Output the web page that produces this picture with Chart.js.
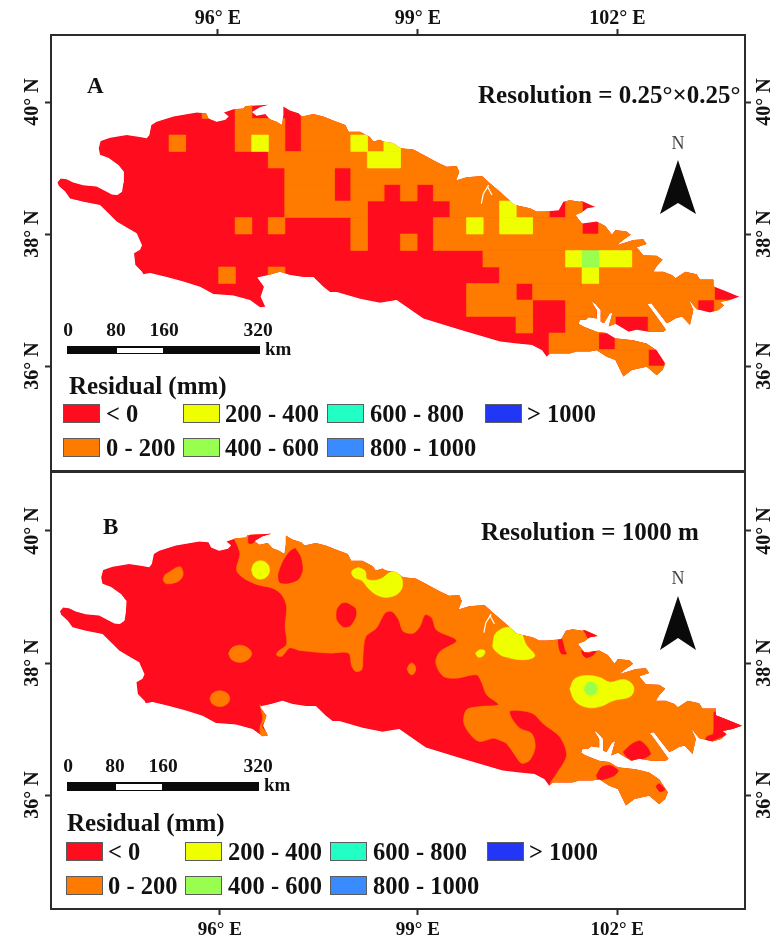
<!DOCTYPE html>
<html>
<head>
<meta charset="utf-8">
<title>Residual maps</title>
<script src="https://cdn.jsdelivr.net/npm/chart.js"></script>
<style>
  html, body { margin: 0; padding: 0; background: #fff; }
  #page { position: relative; width: 776px; height: 937px; overflow: hidden; font-family: "Liberation Serif", serif; font-weight: bold; color: #111; filter: blur(0.4px); }
  canvas { position: absolute; left: 0; }
  .txt { position: absolute; white-space: nowrap; line-height: 1; transform: translateY(-50%); }
  .mid { transform: translate(-50%, -50%); }
  .box { position: absolute; box-sizing: border-box; }
</style>
</head>
<body>
<div id="page">
  <canvas id="mapA" width="776" height="483" style="top:0"></canvas>
  <canvas id="mapB" width="776" height="487" style="top:450px"></canvas>
</div>
<script>
// basin outline, lon / lat
const landOutline = [
  [93.59,38.78],[93.64,38.84],[93.73,38.83],[93.83,38.78],[93.98,38.74],[94.18,38.72],[94.41,38.60],[94.49,38.59],
  [94.56,38.64],[94.58,38.77],[94.59,38.94],[94.51,39.04],[94.36,39.15],[94.23,39.20],[94.21,39.30],[94.24,39.41],
  [94.38,39.46],[94.63,39.50],[94.83,39.47],[94.93,39.45],[94.97,39.50],[95.00,39.65],[95.08,39.70],[95.33,39.78],
  [95.68,39.84],[95.82,39.83],[95.86,39.75],[95.98,39.70],[96.11,39.73],[96.16,39.78],[96.09,39.84],[96.23,39.89],
  [96.38,39.90],[96.41,39.94],[96.63,39.95],[96.76,39.96],[96.63,39.92],[96.51,39.85],[96.58,39.79],[96.71,39.82],
  [96.78,39.74],[96.88,39.70],[96.96,39.65],[96.98,39.80],[96.98,39.93],[97.08,39.87],[97.21,39.83],[97.26,39.78],
  [97.43,39.82],[97.58,39.78],[97.73,39.72],[97.91,39.65],[97.96,39.55],[98.13,39.55],[98.28,39.47],[98.33,39.40],
  [98.43,39.43],[98.48,39.40],[98.63,39.38],[98.74,39.30],[98.93,39.28],[99.08,39.20],[99.28,39.09],[99.43,39.02],
  [99.58,39.03],[99.62,38.94],[99.57,38.81],[99.73,38.86],[99.96,38.88],[100.08,38.77],[100.23,38.64],[100.43,38.46],
  [100.46,38.44],[100.68,38.39],[100.78,38.34],[100.91,38.34],[100.98,38.35],[101.11,38.36],[101.18,38.49],[101.28,38.51],
  [101.43,38.49],[101.46,38.50],[101.66,38.41],[101.54,38.39],[101.46,38.33],[101.36,38.29],[101.46,38.16],[101.68,38.19],
  [101.81,38.12],[101.91,37.99],[101.96,38.06],[102.13,38.04],[102.19,37.99],[102.08,37.91],[101.98,37.83],[102.23,37.91],
  [102.38,37.92],[102.43,37.85],[102.28,37.80],[102.38,37.68],[102.58,37.67],[102.67,37.61],[102.58,37.51],[102.53,37.43],
  [102.68,37.43],[102.81,37.38],[102.86,37.33],[103.01,37.43],[103.18,37.39],[103.23,37.31],[103.43,37.31],[103.43,37.21],
  [103.63,37.13],[103.82,37.05],[103.68,37.00],[103.53,36.97],[103.59,36.92],[103.51,36.85],[103.38,36.81],[103.18,36.86],
  [103.13,36.92],[103.06,37.01],[103.13,36.85],[103.08,36.62],[102.96,36.75],[102.86,36.72],[102.78,36.67],[102.73,36.65],
  [102.60,36.82],[102.50,36.95],[102.44,36.94],[102.53,36.82],[102.67,36.62],[102.72,36.55],[102.68,36.52],[102.46,36.52],
  [102.28,36.55],[102.16,36.52],[101.96,36.64],[101.86,36.60],[101.92,36.82],[101.87,36.79],[101.79,36.65],[101.74,36.67],
  [101.74,36.85],[101.66,36.94],[101.60,36.98],[101.68,36.85],[101.68,36.72],[101.56,36.74],[101.52,36.70],[101.43,36.70],
  [101.41,36.64],[101.48,36.60],[101.68,36.52],[101.83,36.50],[101.96,36.42],[102.23,36.39],[102.43,36.34],[102.58,36.24],
  [102.71,36.04],[102.67,35.94],[102.58,35.86],[102.43,35.99],[102.21,35.94],[102.08,35.84],[101.96,36.09],[101.83,36.14],
  [101.68,36.24],[101.58,36.22],[101.38,36.22],[101.28,36.19],[100.98,36.19],[100.93,36.14],[100.86,36.24],[100.71,36.32],
  [100.48,36.34],[100.23,36.37],[99.63,36.55],[99.08,36.72],[98.68,37.00],[98.43,36.96],[98.13,37.02],[97.78,37.12],
  [97.68,37.12],[97.58,37.20],[97.43,37.35],[97.28,37.35],[97.08,37.38],[96.93,37.43],[96.76,37.38],[96.59,37.34],
  [96.69,37.20],[96.64,37.05],[96.71,36.90],[96.63,36.89],[96.48,37.00],[96.23,37.07],[95.93,37.09],[95.73,37.20],
  [95.48,37.28],[95.23,37.35],[94.98,37.41],[94.88,37.39],[94.86,37.43],[94.76,37.53],[94.74,37.71],[94.83,37.76],
  [94.86,37.83],[94.78,38.01],[94.63,38.10],[94.48,38.19],[94.36,38.31],[94.23,38.44],[93.98,38.49],[93.78,38.54],
  [93.71,38.64],[93.61,38.73]
];
const riverTrace = [[100.06,38.74],[99.98,38.61],[99.95,38.46]];
const riverBranch = [[100.04,38.72],[100.11,38.59]];

// panel A: 0.25 degree residual classes, one string per row, . is below zero
const cellLonStart = 95.018;
const cellLonStep = 0.2478;
const cellLatStep = 0.25;
const cellRowTops = [40,39.75,39.5,39.25,39,38.75,38.5,38.25,38,37.75,37.5,37.25,37,36.75,36.5,36.25,36];
const cellRows = [
  "...o.o...ooooooooooooooooooooooooooo",
  ".....ooo.ooooooooooooooooooooooooooo",
  ".o...oyo.oooyoyooooooooooooooooooooo",
  ".......ooooooyyooooooooooooooooooooo",
  "........ooo.oooooooooooooooooooooooo",
  "........ooo.oo.o.ooooooooooooooooooo",
  "........ooooo.....oooyoo.o.ooooooooo",
  ".....o.o....o....ooyoyyooo.ooooooooo",
  "............o..o.ooooooooooooooooooo",
  "....................oooooygyyooooooo",
  "....o..o.............oooooyooooooooo",
  "...................ooo.ooooooooooo..",
  "...................oooo..oooooooo.oo",
  "......................o..ooo..oooooo",
  "........................ooo.oooooooo",
  "........................oooooo.ooooo",
  "........................oooooooooooo"
];

// panel B: contour patches, lon / lat
const orangeMain = [
  [96.19,39.92],[96.29,39.66],[96.24,39.41],[96.34,39.29],[96.54,39.19],[96.79,39.13],[96.92,39.03],[96.99,38.86],
  [96.97,38.55],[96.99,38.28],[96.87,38.18],[96.84,38.12],[96.92,38.10],[97.04,38.23],[97.19,38.19],[97.64,38.15],
  [97.92,38.15],[97.97,37.95],[98.03,37.87],[98.12,37.90],[98.14,38.15],[98.18,38.40],[98.34,38.53],[98.47,38.76],
  [98.57,38.78],[98.67,38.66],[98.74,38.48],[98.89,38.45],[98.99,38.55],[99.07,38.73],[99.17,38.68],[99.24,38.50],
  [99.54,38.34],[99.29,38.17],[99.23,38.00],[99.34,37.80],[99.54,37.77],[99.84,37.82],[99.92,37.70],[99.99,37.52],
  [100.17,37.37],[99.89,37.34],[99.69,37.29],[99.65,37.09],[99.77,36.89],[99.89,36.81],[100.09,36.86],[100.19,36.83],
  [100.29,36.78],[100.42,36.60],[100.52,36.48],[100.64,36.53],[100.72,36.73],[100.67,36.93],[100.49,37.01],[100.37,37.16],
  [100.34,37.27],[100.49,37.28],[100.69,37.23],[100.84,37.08],[101.09,36.88],[101.19,36.60],[101.04,36.32],[100.94,36.15],
  [100.94,35.5],[104.2,35.5],[104.2,40.5],[96.19,40.5]
];
const orangeSpots = [
  [[95.17,39.34],[95.39,39.46],[95.44,39.34],[95.37,39.24],[95.19,39.20],[95.14,39.26],[95.17,39.34]],
  [[96.12,38.14],[96.17,38.23],[96.29,38.27],[96.41,38.23],[96.47,38.14],[96.41,38.05],[96.29,38.01],[96.17,38.05],[96.12,38.14]],
  [[95.84,37.46],[95.88,37.54],[95.99,37.58],[96.10,37.54],[96.14,37.46],[96.10,37.38],[95.99,37.34],[95.88,37.38],[95.84,37.46]],
  [[98.80,37.91],[98.825,37.97],[98.87,38.00],[98.91,37.97],[98.93,37.91],[98.91,37.85],[98.87,37.82],[98.825,37.85],[98.80,37.91]],
  [[96.59,37.37],[96.67,37.27],[96.70,37.17],[96.62,37.04],[96.72,36.91],[96.62,36.88],[96.59,37.01],[96.63,37.16],[96.59,37.37]]
];
const redSpots = [
  [[96.42,39.92],[96.49,39.97],[96.74,39.98],[96.74,39.92],[96.54,39.86],[96.47,39.81],[96.42,39.82],[96.42,39.92]],
  [[97.12,39.74],[97.20,39.61],[97.23,39.41],[97.17,39.27],[97.02,39.21],[96.89,39.22],[96.87,39.34],[96.94,39.54],[97.04,39.69],[97.12,39.74]],
  [[97.89,38.91],[98.02,38.83],[98.03,38.71],[97.94,38.56],[97.84,38.55],[97.75,38.65],[97.75,38.81],[97.82,38.90],[97.89,38.91]],
  [[101.065,38.35],[101.115,38.37],[101.165,38.19],[101.19,38.14],[101.115,38.14],[101.08,38.22],[101.065,38.35]],
  [[101.44,38.50],[101.64,38.42],[101.515,38.38],[101.48,38.44],[101.44,38.50]],
  [[101.415,38.19],[101.515,38.15],[101.64,38.19],[101.59,38.12],[101.49,38.08],[101.43,38.13],[101.415,38.19]],
  [[102.04,36.65],[102.165,36.77],[102.29,36.82],[102.38,36.75],[102.45,36.62],[102.34,36.55],[102.19,36.52],[102.09,36.58],[102.04,36.65]],
  [[101.64,36.30],[101.715,36.42],[101.84,36.45],[101.965,36.37],[101.915,36.30],[101.79,36.25],[101.665,36.23],[101.64,36.30]],
  [[102.53,36.13],[102.58,36.17],[102.665,36.08],[102.59,36.05],[102.53,36.13]],
  [[103.40,37.26],[103.59,37.16],[103.84,37.04],[103.64,36.97],[103.54,36.96],[103.59,36.92],[103.44,36.85],[103.28,36.80],[103.29,36.88],[103.39,36.93],[103.40,37.08],[103.40,37.26]]
];
const yellowSpots = [
  [[96.465,39.41],[96.505,39.51],[96.60,39.55],[96.695,39.51],[96.735,39.41],[96.695,39.31],[96.60,39.27],[96.505,39.31],[96.465,39.41]],
  [[98.07,39.45],[98.17,39.39],[98.20,39.27],[98.39,39.27],[98.54,39.37],[98.64,39.39],[98.73,39.24],[98.69,39.08],[98.54,39.00],[98.37,39.02],[98.22,39.13],[98.12,39.25],[98.00,39.30],[97.97,39.39],[98.07,39.45]],
  [[99.825,38.15],[99.89,38.20],[99.965,38.18],[99.94,38.11],[99.865,38.09],[99.825,38.15]],
  [[100.09,38.33],[100.115,38.43],[100.19,38.50],[100.315,38.54],[100.49,38.48],[100.59,38.27],[100.715,38.12],[100.665,38.07],[100.49,38.05],[100.29,38.09],[100.19,38.13],[100.09,38.23],[100.09,38.33]],
  [[101.24,37.61],[101.315,37.76],[101.49,37.81],[101.69,37.78],[101.84,37.71],[102.04,37.75],[102.165,37.69],[102.20,37.59],[102.14,37.49],[101.89,37.43],[101.69,37.34],[101.49,37.33],[101.315,37.43],[101.24,37.61]]
];
const greenSpot = [[101.455,37.61],[101.485,37.68],[101.555,37.71],[101.625,37.68],[101.655,37.61],[101.625,37.54],[101.555,37.51],[101.485,37.54],[101.455,37.61]];

// axis values
const lonTicksA = [96, 99, 101.99];
const lonTicksB = [95.99, 98.96, 101.95];
const lonLabels = ["96° E", "99° E", "102° E"];
const latTicks = [40, 38, 36];
const latLabels = ["40° N", "38° N", "36° N"];

// legend
const legendLabels = ["< 0", "0 - 200", "200 - 400", "400 - 600", "600 - 800", "800 - 1000", "> 1000"];
const legendColors = ["#ff0c1e", "#ff7b00", "#f0ff00", "#98ff4e", "#22ffc4", "#3a8bff", "#2236f5"];
const scaleBarLabels = ["0", "80", "160", "320"];

const RED = legendColors[0], ORANGE = legendColors[1], YELLOW = legendColors[2], GREEN = legendColors[3];

function toPoints(list) {
  return list.map(p => ({ x: p[0], y: p[1] }));
}

function patch(list, color, tension) {
  return {
    data: toPoints(list), showLine: true, fill: 'shape', tension: tension || 0,
    backgroundColor: color, borderColor: color, borderWidth: 0.6, pointRadius: 0
  };
}

function river(list) {
  return { data: toPoints(list), showLine: true, fill: false, borderColor: '#fff', borderWidth: 1.2, pointRadius: 0 };
}

// runs of equal class along each row of the 0.25 degree grid
function cellDatasets() {
  const colors = { o: ORANGE, y: YELLOW, g: GREEN };
  const groups = { o: [], y: [], g: [] };
  cellRows.forEach((row, r) => {
    let c = 0;
    while (c < row.length) {
      let end = c;
      while (end + 1 < row.length && row[end + 1] === row[c]) end++;
      if (row[c] !== '.') {
        const x0 = cellLonStart + c * cellLonStep, x1 = cellLonStart + (end + 1) * cellLonStep;
        const top = cellRowTops[r], bottom = top - cellLatStep;
        groups[row[c]].push(patch([[x0, top], [x1, top], [x1, bottom], [x0, bottom], [x0, top]], colors[row[c]]));
      }
      c = end + 1;
    }
  });
  return groups.o.concat(groups.y, groups.g);
}

function contourDatasets() {
  const out = [patch(orangeMain, ORANGE, 0.3)];
  orangeSpots.forEach(s => out.push(patch(s, ORANGE, 0.35)));
  redSpots.forEach(s => out.push(patch(s, RED, 0.25)));
  yellowSpots.forEach(s => out.push(patch(s, YELLOW, 0.4)));
  out.push(patch(greenSpot, GREEN, 0.4));
  return out;
}

// everything painted inside the basin stays inside the basin
const landClip = {
  id: 'landClip',
  beforeDatasetsDraw(chart) {
    const { ctx, scales } = chart;
    ctx.save();
    ctx.beginPath();
    landOutline.forEach((p, i) => {
      const px = scales.x.getPixelForValue(p[0]), py = scales.y.getPixelForValue(p[1]);
      if (i) ctx.lineTo(px, py); else ctx.moveTo(px, py);
    });
    ctx.closePath();
    ctx.clip();
  },
  afterDatasetsDraw(chart) {
    chart.ctx.restore();
  }
};

function axis(position, lo, hi, ticks, labels, size, o) {
  const vertical = position === 'left' || position === 'right';
  return {
    type: 'linear', position: position, min: lo, max: hi,
    afterBuildTicks: s => { s.ticks = (labels ? ticks : []).map(v => ({ value: v })); },
    afterFit: s => { if (vertical) s.width = size; else s.height = size; },
    border: { display: o.border !== false, color: '#2b2b2b', width: o.borderWidth || 2 },
    grid: { drawOnChartArea: false, drawTicks: !!labels, tickLength: 6, tickWidth: 2, tickColor: '#2b2b2b' },
    ticks: {
      display: !!labels, autoSkip: false, color: '#111', padding: o.padding,
      minRotation: vertical ? 90 : 0, maxRotation: vertical ? 90 : 0,
      crossAlign: vertical ? 'center' : 'near',
      font: { family: 'Liberation Serif', weight: 'bold', size: o.font },
      callback: (v, i) => labels ? labels[i] : ''
    }
  };
}

function drawMap(id, layers, scales) {
  const land = patch(landOutline, RED);
  const stack = [land].concat(layers, [river(riverTrace), river(riverBranch)]).reverse();
  return new Chart(document.getElementById(id), {
    type: 'scatter',
    data: { datasets: stack },
    plugins: [landClip],
    options: {
      responsive: false, animation: false, events: [],
      layout: { padding: 0 },
      plugins: { legend: { display: false }, tooltip: { enabled: false } },
      scales: scales
    }
  });
}

const lonA = [93.495, 103.905], latA = [34.41, 41.015];
const lonB = [93.458, 103.867], latB = [34.273, 40.909];

drawMap('mapA', cellDatasets(), {
  x: axis('bottom', lonA[0], lonA[1], lonTicksA, null, 12, { border: false }),
  xt: axis('top', lonA[0], lonA[1], lonTicksA, lonLabels, 35, { font: 20, padding: -2 }),
  y: axis('left', latA[0], latA[1], latTicks, latLabels, 51, { font: 20, padding: -12 }),
  yr: axis('right', latA[0], latA[1], latTicks, latLabels, 31, { font: 20, padding: -10 })
});

drawMap('mapB', contourDatasets(), {
  x: axis('bottom', lonB[0], lonB[1], lonTicksB, lonLabels, 28, { font: 19, padding: 4 }),
  xt: axis('top', lonB[0], lonB[1], lonTicksB, null, 21, { borderWidth: 3 }),
  y: axis('left', latB[0], latB[1], latTicks, latLabels, 51, { font: 20, padding: -12 }),
  yr: axis('right', latB[0], latB[1], latTicks, latLabels, 31, { font: 20, padding: -10 })
});

// map furniture: text, scale bar, legend, north arrow
const page = document.getElementById('page');

function addText(text, x, y, size, mid, style) {
  const el = document.createElement('div');
  el.className = 'txt' + (mid ? ' mid' : '');
  el.textContent = text;
  el.style.left = x + 'px';
  el.style.top = y + 'px';
  el.style.fontSize = size + 'px';
  if (style) Object.assign(el.style, style);
  page.appendChild(el);
}

function addBox(x, y, w, h, bg, border) {
  const el = document.createElement('div');
  el.className = 'box';
  el.style.cssText = `left:${x}px;top:${y}px;width:${w}px;height:${h}px;background:${bg};` + (border ? `border:1.5px solid ${border};` : '');
  page.appendChild(el);
}

function addArrow(apexX, apexY, notchY, baseY, half) {
  const ns = 'http://www.w3.org/2000/svg';
  const svg = document.createElementNS(ns, 'svg');
  svg.setAttribute('width', 776);
  svg.setAttribute('height', 937);
  svg.style.cssText = 'position:absolute;left:0;top:0';
  const tri = document.createElementNS(ns, 'polygon');
  tri.setAttribute('points', `${apexX},${apexY} ${apexX + half},${baseY} ${apexX},${notchY} ${apexX - half},${baseY}`);
  tri.setAttribute('fill', '#0a0a0a');
  svg.appendChild(tri);
  page.appendChild(svg);
}

function furniture(p) {
  addText(p.letter, p.letterX, p.letterY, 23);
  addText(p.resolution, p.resX, p.resY, 25);
  addText('N', p.northX, p.northY, 18, true, { fontWeight: 'normal', color: '#444' });
  addArrow(p.northX, p.arrow[0], p.arrow[1], p.arrow[2], 18);

  scaleBarLabels.forEach((t, i) => addText(t, p.scaleX[i], p.scaleY, 19.5, true));
  addBox(p.barX[0], p.barY, p.barX[3] - p.barX[0], p.barH, '#0a0a0a');
  addBox(p.barX[1], p.barY + 1.5, p.barX[2] - p.barX[1], p.barH - 3, '#fff');
  addText('km', p.kmX, p.kmY, 19);

  addText('Residual (mm)', p.titleX, p.titleY, 25);
  const order = [[0, 0], [0, 1], [1, 0], [1, 1], [2, 0], [2, 1], [3, 0]];
  legendLabels.forEach((t, i) => {
    const col = order[i][0], row = order[i][1];
    addBox(p.swatchX[col], p.swatchY[row], 37, 19, legendColors[i], '#5c5c5c');
    addText(t, p.labelX[col], p.swatchY[row] + 10, 24.5);
  });
}

furniture({
  letter: 'A', letterX: 87, letterY: 85,
  resolution: 'Resolution = 0.25°×0.25°', resX: 478, resY: 94,
  northX: 678, northY: 143, arrow: [160, 203, 214],
  scaleX: [68, 116, 164, 258], scaleY: 330, barX: [67, 117, 163, 260], barY: 346, barH: 8,
  kmX: 265, kmY: 348,
  titleX: 69, titleY: 385,
  swatchX: [63, 183, 327, 485], swatchY: [404, 438], labelX: [106, 225, 370, 527]
});

furniture({
  letter: 'B', letterX: 103, letterY: 526,
  resolution: 'Resolution = 1000 m', resX: 481, resY: 531,
  northX: 678, northY: 578, arrow: [596, 638, 650],
  scaleX: [68, 115, 163, 258], scaleY: 766, barX: [67, 116, 162, 259], barY: 782, barH: 9,
  kmX: 264, kmY: 784,
  titleX: 67, titleY: 822,
  swatchX: [66, 185, 330, 487], swatchY: [842, 876], labelX: [108, 228, 373, 529]
});
</script>
</body>
</html>
